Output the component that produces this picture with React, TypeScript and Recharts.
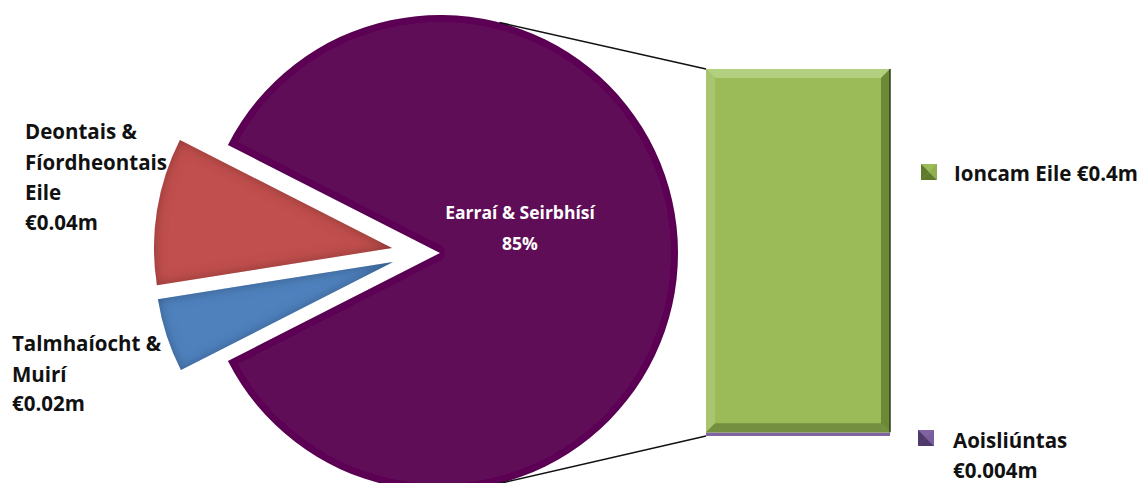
import { PieChart, Pie, Cell, BarChart, Bar, XAxis, YAxis } from "recharts";

const W = 1145;
const H = 483;

// pie part
const PIE_NAMES = ["Deontais & Fíordheontais Eile", "Talmhaíocht & Muirí", "Earraí & Seirbhísí"];
const PIE_VALUES = [0.04, 0.02, 0.34];
const PIE_COLORS = ["#c0504d", "#4f81bd", "#5e0f56"];

// bar part (stacked, bottom first)
const BAR_CATEGORY = ["Eile"];
const BAR_SERIES = ["Aoisliúntas", "Ioncam Eile"];
const BAR_VALUES = [0.004, 0.4];
const BAR_COLORS = ["#8064a2", "#9bbb59"];
const BAR_VALUE_LABELS = ["€0.004m", "€0.4m"];

// layout
const PIE_R = 238;
const PIE_START = 153;
const PIE_CENTERS: [number, number][] = [
  [392, 248],
  [393, 262],
  [440, 253],
];
const DRAW_ORDER = [2, 0, 1];
const CONNECT_ANGLE = 75.5;

const pieData = PIE_NAMES.map((name, i) => ({ name, value: PIE_VALUES[i] }));
const barData = BAR_CATEGORY.map((name) => ({
  name,
  aois: BAR_VALUES[0],
  ioncam: BAR_VALUES[1],
}));

function pieEdge(sign: number) {
  const [cx, cy] = PIE_CENTERS[2];
  const a = (CONNECT_ANGLE * Math.PI) / 180;
  return { x: cx + PIE_R * Math.cos(a), y: cy - sign * PIE_R * Math.sin(a) };
}

function TopShape(props: any) {
  const { x, y, width: w, height: h, fill } = props;
  const b = 9;
  const p = pieEdge(1);
  return (
    <g>
      <line x1={p.x} y1={p.y} x2={x} y2={y} stroke="#111" strokeWidth={1.6} />
      <rect x={x} y={y} width={w} height={h} fill={fill} />
      <polygon points={`${x},${y} ${x + w},${y} ${x + w - b},${y + b} ${x + b},${y + b}`} fill="#b3cf80" />
      <polygon points={`${x},${y} ${x + b},${y + b} ${x + b},${y + h - b} ${x},${y + h}`} fill="#a9c56f" />
      <polygon points={`${x + w},${y} ${x + w},${y + h} ${x + w - b},${y + h - b} ${x + w - b},${y + b}`} fill="#6c8a35" />
      <polygon points={`${x},${y + h} ${x + b},${y + h - b} ${x + w - b},${y + h - b} ${x + w},${y + h}`} fill="#748f3f" />
      <line x1={x + w} y1={y} x2={x + w} y2={y + h} stroke="#2f3a1a" strokeWidth={1.5} />
    </g>
  );
}

function BottomShape(props: any) {
  const { x, y, width: w, height: h, fill } = props;
  const p = pieEdge(-1);
  return (
    <g>
      <line x1={p.x} y1={p.y} x2={x} y2={y + h} stroke="#111" strokeWidth={1.6} />
      <rect x={x} y={y} width={w} height={h} fill={fill} />
    </g>
  );
}

function Marker({ x, y, color, dark, light }: { x: number; y: number; color: string; dark: string; light: string }) {
  const s = 16;
  const c = s / 2;
  return (
    <g>
      <rect x={x} y={y} width={s} height={s} fill={color} />
      <polygon points={`${x},${y} ${x + c},${y + c} ${x},${y + s}`} fill={dark} />
      <polygon points={`${x},${y + s} ${x + c},${y + c} ${x + s},${y + s}`} fill={dark} />
      <polygon points={`${x + s},${y} ${x + c},${y + c} ${x + s},${y + s}`} fill={light} />
    </g>
  );
}

const labelStyle = {
  fontFamily: "'Open Sans', Lato, sans-serif",
  fontWeight: 700,
  fontSize: 20.5,
  fill: "#111",
};

export default function App() {
  return (
    <div style={{ position: "absolute", left: 0, top: 0, width: W, height: H, background: "#fff" }}>
      <div style={{ position: "absolute", left: 0, top: 0 }}>
        <PieChart width={W} height={H} margin={{ top: 0, right: 0, bottom: 0, left: 0 }}>
          {DRAW_ORDER.map((i) => (
            <Pie
              key={i}
              data={pieData}
              dataKey="value"
              nameKey="name"
              cx={PIE_CENTERS[i][0]}
              cy={PIE_CENTERS[i][1]}
              outerRadius={PIE_R}
              startAngle={PIE_START}
              endAngle={PIE_START + 360}
              stroke="none"
              label={false}
              labelLine={false}
              isAnimationActive={false}
            >
              {pieData.map((d, j) => (
                <Cell
                  key={d.name}
                  fill={j === i ? PIE_COLORS[j] : "none"}
                  stroke="none"
                  filter={j === i ? `url(#bevel${j})` : undefined}
                />
              ))}
            </Pie>
          ))}
        </PieChart>
      </div>
      <div style={{ position: "absolute", left: 0, top: 0 }}>
        <BarChart
          width={W}
          height={H}
          data={barData}
          margin={{ top: 69, right: 255, bottom: 47, left: 706 }}
          barCategoryGap={0}
        >
          <XAxis dataKey="name" hide />
          <YAxis hide domain={[0, BAR_VALUES[0] + BAR_VALUES[1]]} />
          <Bar dataKey="aois" name={BAR_SERIES[0]} stackId="a" fill={BAR_COLORS[0]} shape={BottomShape} isAnimationActive={false} />
          <Bar dataKey="ioncam" name={BAR_SERIES[1]} stackId="a" fill={BAR_COLORS[1]} shape={TopShape} isAnimationActive={false} />
        </BarChart>
      </div>
      <svg width={W} height={H} style={{ position: "absolute", left: 0, top: 0, pointerEvents: "none" }}>
        <defs>
          {[0.55, 0.55, 0.22].map((op, j) => (
            <filter key={j} id={`bevel${j}`} x="-5%" y="-5%" width="110%" height="110%">
              <feComponentTransfer in="SourceAlpha" result="inv">
                <feFuncA type="table" tableValues="1 0" />
              </feComponentTransfer>
              <feGaussianBlur in="inv" stdDeviation={j === 2 ? 3 : 6} result="blur" />
              <feFlood floodColor="#000" floodOpacity={op} />
              <feComposite in2="blur" operator="in" result="sh" />
              <feComposite in="sh" in2="SourceAlpha" operator="in" result="inner" />
              <feMerge>
                <feMergeNode in="SourceGraphic" />
                <feMergeNode in="inner" />
              </feMerge>
            </filter>
          ))}
        </defs>
        <g style={labelStyle} dominantBaseline="central">
          <text x={25} y={131}>Deontais &amp;</text>
          <text x={25} y={162}>Fíordheontais</text>
          <text x={25} y={192}>Eile</text>
          <text x={25} y={222}>€0.04m</text>
          <text x={12} y={343}>Talmhaíocht &amp;</text>
          <text x={12} y={374}>Muirí</text>
          <text x={12} y={403}>€0.02m</text>
        </g>
        <g style={{ ...labelStyle, fontSize: 17.5, fill: "#fff" }} textAnchor="middle" dominantBaseline="central">
          <text x={520} y={212}>{PIE_NAMES[2]}</text>
          <text x={520} y={243}>85%</text>
        </g>
        <Marker x={921} y={164} color={BAR_COLORS[1]} dark="#5f7a2c" light="#8fae4f" />
        <Marker x={918} y={430} color={BAR_COLORS[0]} dark="#4e3a6a" light="#7a5e9c" />
        <g style={labelStyle} dominantBaseline="central">
          <text x={954} y={173}>{BAR_SERIES[1]} {BAR_VALUE_LABELS[1]}</text>
          <text x={953} y={440}>{BAR_SERIES[0]}</text>
          <text x={953} y={470}>{BAR_VALUE_LABELS[0]}</text>
        </g>
      </svg>
    </div>
  );
}
